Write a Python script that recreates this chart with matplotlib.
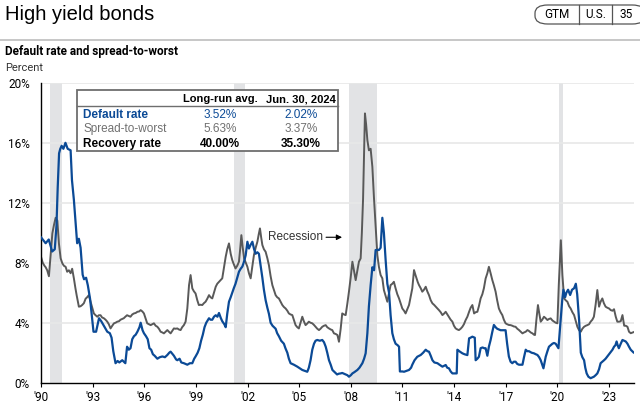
import matplotlib
matplotlib.use("Agg")
import matplotlib.pyplot as plt
from matplotlib.patches import Rectangle, FancyBboxPatch

# default rate (blue)
dr_year = [1990.0, 1990.27, 1990.45, 1990.65, 1990.8, 1990.9, 1990.97, 1991.05, 1991.12, 1991.2, 1991.3,
           1991.42, 1991.55, 1991.72, 1991.8, 1991.91, 1992.02, 1992.1, 1992.2, 1992.3, 1992.42,
           1992.5, 1992.62, 1992.72, 1992.85, 1992.95, 1993.05, 1993.2, 1993.37, 1993.5, 1993.6,
           1993.75, 1993.85, 1994.0, 1994.1, 1994.2, 1994.33, 1994.45, 1994.55, 1994.72, 1994.9,
           1995.0, 1995.1, 1995.2, 1995.3, 1995.4, 1995.5, 1995.6, 1995.72, 1995.79, 1995.9,
           1995.98, 1996.1, 1996.2, 1996.3, 1996.4, 1996.5, 1996.6, 1996.76, 1996.9, 1997.05,
           1997.2, 1997.34, 1997.45, 1997.53, 1997.65, 1997.72, 1997.85, 1997.92, 1998.05, 1998.15,
           1998.3, 1998.5, 1998.65, 1998.79, 1998.9, 1998.98, 1999.1, 1999.2, 1999.3, 1999.4,
           1999.5, 1999.6, 1999.76, 1999.85, 1999.95, 2000.05, 2000.15, 2000.25, 2000.34, 2000.45,
           2000.53, 2000.65, 2000.73, 2000.82, 2000.92, 2001.02, 2001.11, 2001.2, 2001.3, 2001.4,
           2001.5, 2001.6, 2001.7, 2001.8, 2001.89, 2001.99, 2002.08, 2002.18, 2002.28, 2002.38,
           2002.47, 2002.57, 2002.66, 2002.76, 2002.86, 2002.95, 2003.05, 2003.15, 2003.24, 2003.34,
           2003.45, 2003.63, 2003.72, 2003.82, 2003.95, 2004.11, 2004.2, 2004.31, 2004.4, 2004.5,
           2004.69, 2004.89, 2005.05, 2005.18, 2005.3, 2005.47, 2005.56, 2005.66, 2005.76, 2005.86,
           2005.95, 2006.05, 2006.2, 2006.34, 2006.44, 2006.54, 2006.63, 2006.73, 2006.83, 2006.93,
           2007.02, 2007.2, 2007.3, 2007.41, 2007.5, 2007.6, 2007.7, 2007.8, 2007.89, 2008.0,
           2008.09, 2008.2, 2008.38, 2008.5, 2008.67, 2008.77, 2008.86, 2008.96, 2009.05, 2009.15,
           2009.25, 2009.35, 2009.44, 2009.55, 2009.63, 2009.73, 2009.83, 2009.92, 2010.02, 2010.12,
           2010.22, 2010.31, 2010.41, 2010.5, 2010.6, 2010.72, 2010.8, 2010.85, 2011.0, 2011.09,
           2011.25, 2011.38, 2011.5, 2011.57, 2011.7, 2011.86, 2012.06, 2012.2, 2012.35, 2012.45,
           2012.54, 2012.64, 2012.74, 2012.85, 2013.03, 2013.15, 2013.32, 2013.51, 2013.6, 2013.7,
           2013.8, 2013.9, 2014.15, 2014.19, 2014.3, 2014.48, 2014.6, 2014.77, 2014.87, 2014.95,
           2015.06, 2015.2, 2015.25, 2015.35, 2015.44, 2015.54, 2015.65, 2015.75, 2015.83, 2015.93,
           2016.02, 2016.12, 2016.22, 2016.31, 2016.41, 2016.5, 2016.6, 2016.7, 2016.85, 2016.99,
           2017.08, 2017.18, 2017.28, 2017.38, 2017.47, 2017.57, 2017.67, 2017.77, 2017.97, 2018.06,
           2018.16, 2018.25, 2018.35, 2018.5, 2018.64, 2018.74, 2018.84, 2018.94, 2019.03, 2019.12,
           2019.19, 2019.32, 2019.42, 2019.51, 2019.61, 2019.71, 2019.8, 2019.9, 2020.06, 2020.12,
           2020.19, 2020.28, 2020.35, 2020.45, 2020.52, 2020.62, 2020.74, 2020.85, 2020.97, 2021.07,
           2021.15, 2021.26, 2021.36, 2021.45, 2021.55, 2021.62, 2021.7, 2021.8, 2021.93, 2022.03,
           2022.12, 2022.22, 2022.32, 2022.42, 2022.51, 2022.61, 2022.71, 2022.8, 2022.9, 2023.0,
           2023.1, 2023.2, 2023.29, 2023.37, 2023.44, 2023.5, 2023.57, 2023.68, 2023.78, 2023.88,
           2023.97, 2024.07, 2024.16, 2024.26, 2024.42]
dr_val = [9.7, 9.3, 9.55, 8.75, 8.9, 10.5, 13.0, 15.3, 15.6, 15.8, 15.6,
          16.0, 15.6, 15.5, 13.5, 12.2, 10.5, 9.3, 9.6, 9.0, 7.2,
          6.9, 7.0, 6.5, 5.6, 4.5, 3.4, 3.4, 4.3, 4.1, 3.9,
          3.6, 3.4, 3.3, 3.0, 2.1, 1.3, 1.45, 1.35, 1.5, 1.3,
          2.4, 2.2, 2.3, 2.9, 3.1, 3.2, 3.4, 3.7, 4.0, 3.5,
          3.3, 3.1, 2.9, 2.3, 2.2, 1.9, 1.8, 1.6, 1.7, 1.75,
          1.7, 1.85, 2.0, 2.07, 1.9, 1.8, 1.55, 1.5, 1.6, 1.35,
          1.3, 1.2, 1.3, 1.3, 1.6, 1.75, 2.0, 2.3, 2.8, 3.2,
          3.7, 4.0, 4.3, 4.2, 4.2, 4.4, 4.5, 4.4, 4.65, 4.3,
          4.1, 3.9, 3.7, 4.6, 5.4, 5.7, 6.0, 6.3, 6.6, 7.0,
          7.4, 7.6, 7.75, 8.1, 8.5, 9.4, 8.95, 9.2, 9.4, 8.9,
          8.6, 8.7, 8.6, 7.8, 7.0, 6.2, 5.5, 5.0, 4.6, 4.0,
          3.8, 3.6, 3.3, 3.1, 2.8, 2.6, 2.3, 2.0, 1.6, 1.3,
          1.2, 1.07, 0.95, 0.85, 0.8, 0.73, 1.0, 1.5, 2.2, 2.6,
          2.8, 2.85, 2.8, 2.85, 2.7, 2.4, 2.0, 1.5, 1.2, 0.85,
          0.75, 0.55, 0.6, 0.62, 0.65, 0.6, 0.55, 0.5, 0.4, 0.5,
          0.62, 0.7, 0.85, 1.0, 1.3, 1.6, 1.96, 3.3, 5.1, 6.5,
          7.7, 7.5, 8.85, 8.85, 8.85, 9.0, 11.0, 10.0, 8.2, 6.6,
          6.0, 4.5, 3.3, 2.9, 2.6, 2.5, 2.4, 0.75, 0.75, 0.73,
          0.8, 0.85, 1.0, 1.2, 1.5, 1.73, 1.85, 2.0, 2.2, 2.1,
          2.07, 1.8, 1.5, 1.35, 1.3, 1.2, 1.07, 1.18, 1.0, 0.96,
          0.75, 0.62, 0.62, 2.2, 2.1, 1.96, 1.9, 1.84, 2.96, 3.0,
          3.07, 3.0, 1.5, 1.6, 1.73, 2.3, 2.35, 2.3, 2.3, 1.8,
          2.4, 2.85, 3.4, 3.85, 3.7, 3.6, 3.55, 3.5, 3.5, 3.5,
          2.6, 1.75, 1.4, 1.3, 1.4, 1.4, 1.25, 1.2, 1.2, 1.7,
          2.2, 2.1, 2.1, 2.0, 1.96, 1.9, 1.85, 1.7, 1.5, 1.2,
          0.96, 1.73, 2.1, 2.4, 2.5, 2.6, 2.65, 2.6, 2.3, 3.2,
          4.2, 5.5, 6.2, 5.7, 6.0, 6.2, 5.85, 6.2, 6.3, 6.6,
          5.9, 4.2, 2.0, 1.7, 1.5, 1.0, 0.62, 0.4, 0.3, 0.35,
          0.4, 0.5, 0.62, 0.9, 1.3, 1.4, 1.5, 1.6, 1.75, 1.9,
          2.05, 2.2, 2.4, 2.5, 2.75, 2.5, 2.3, 2.6, 2.85, 2.8,
          2.75, 2.6, 2.4, 2.2, 2.02]

# spread-to-worst (grey)
sw_year = [1990.0, 1990.1, 1990.2, 1990.27, 1990.36, 1990.46, 1990.56, 1990.66, 1990.75, 1990.85,
           1990.95, 1991.04, 1991.14, 1991.24, 1991.33, 1991.43, 1991.52, 1991.62, 1991.72, 1991.81,
           1991.91, 1992.0, 1992.07, 1992.2, 1992.3, 1992.39, 1992.49, 1992.59, 1992.68, 1992.78,
           1992.88, 1992.98, 1993.07, 1993.17, 1993.27, 1993.36, 1993.46, 1993.55, 1993.65, 1993.75,
           1993.85, 1993.94, 1994.04, 1994.14, 1994.24, 1994.33, 1994.43, 1994.53, 1994.62, 1994.72,
           1994.81, 1994.9, 1995.0, 1995.1, 1995.2, 1995.3, 1995.4, 1995.5, 1995.6, 1995.7,
           1995.79, 1995.89, 1995.98, 1996.07, 1996.17, 1996.27, 1996.37, 1996.46, 1996.56, 1996.66,
           1996.76, 1996.85, 1996.95, 1997.05, 1997.14, 1997.24, 1997.34, 1997.43, 1997.53, 1997.62,
           1997.72, 1997.82, 1997.92, 1998.01, 1998.11, 1998.2, 1998.3, 1998.4, 1998.5, 1998.6,
           1998.69, 1998.79, 1998.88, 1998.98, 1999.08, 1999.17, 1999.27, 1999.37, 1999.46, 1999.56,
           1999.66, 1999.76, 1999.85, 1999.95, 2000.05, 2000.15, 2000.24, 2000.34, 2000.44, 2000.53,
           2000.63, 2000.73, 2000.82, 2000.92, 2001.02, 2001.11, 2001.2, 2001.3, 2001.4, 2001.5,
           2001.57, 2001.64, 2001.72, 2001.8, 2001.9, 2001.99, 2002.08, 2002.18, 2002.27, 2002.37,
           2002.47, 2002.57, 2002.65, 2002.72, 2002.79, 2002.86, 2002.95, 2003.05, 2003.15, 2003.24,
           2003.34, 2003.44, 2003.53, 2003.63, 2003.72, 2003.82, 2003.92, 2004.02, 2004.11, 2004.21,
           2004.31, 2004.4, 2004.5, 2004.6, 2004.69, 2004.79, 2004.89, 2004.98, 2005.08, 2005.18,
           2005.27, 2005.37, 2005.47, 2005.56, 2005.66, 2005.76, 2005.86, 2005.95, 2006.05, 2006.15,
           2006.24, 2006.34, 2006.44, 2006.54, 2006.63, 2006.73, 2006.83, 2006.92, 2007.02, 2007.12,
           2007.22, 2007.31, 2007.41, 2007.5, 2007.6, 2007.7, 2007.8, 2007.89, 2007.99, 2008.09,
           2008.18, 2008.28, 2008.38, 2008.47, 2008.57, 2008.64, 2008.71, 2008.77, 2008.82, 2008.89,
           2008.96, 2009.05, 2009.15, 2009.25, 2009.34, 2009.44, 2009.54, 2009.63, 2009.73, 2009.83,
           2009.92, 2010.02, 2010.12, 2010.22, 2010.31, 2010.41, 2010.5, 2010.6, 2010.7, 2010.8,
           2010.89, 2010.99, 2011.09, 2011.18, 2011.28, 2011.38, 2011.47, 2011.57, 2011.67, 2011.75,
           2011.82, 2011.89, 2011.96, 2012.06, 2012.15, 2012.25, 2012.35, 2012.44, 2012.54, 2012.64,
           2012.74, 2012.83, 2012.93, 2013.03, 2013.12, 2013.22, 2013.32, 2013.41, 2013.51, 2013.61,
           2013.7, 2013.8, 2013.9, 2013.99, 2014.09, 2014.19, 2014.28, 2014.38, 2014.48, 2014.57,
           2014.67, 2014.77, 2014.87, 2014.96, 2015.06, 2015.16, 2015.25, 2015.35, 2015.44, 2015.54,
           2015.64, 2015.73, 2015.83, 2015.93, 2016.02, 2016.12, 2016.22, 2016.31, 2016.41, 2016.5,
           2016.6, 2016.7, 2016.8, 2016.89, 2016.99, 2017.08, 2017.18, 2017.28, 2017.38, 2017.47,
           2017.57, 2017.67, 2017.77, 2017.87, 2017.97, 2018.06, 2018.16, 2018.26, 2018.35, 2018.45,
           2018.55, 2018.64, 2018.7, 2018.78, 2018.87, 2018.95, 2019.03, 2019.12, 2019.22, 2019.32,
           2019.42, 2019.51, 2019.61, 2019.71, 2019.81, 2019.9, 2020.0, 2020.08, 2020.2, 2020.29,
           2020.39, 2020.48, 2020.58, 2020.68, 2020.77, 2020.87, 2020.97, 2021.07, 2021.16, 2021.26,
           2021.36, 2021.45, 2021.55, 2021.65, 2021.74, 2021.84, 2021.93, 2022.03, 2022.12, 2022.22,
           2022.32, 2022.42, 2022.51, 2022.61, 2022.7, 2022.8, 2022.9, 2023.0, 2023.1, 2023.2,
           2023.29, 2023.39, 2023.48, 2023.58, 2023.68, 2023.78, 2023.88, 2023.97, 2024.07, 2024.16,
           2024.26, 2024.42]
sw_val = [8.4, 8.0, 7.8, 7.7, 7.5, 7.1, 8.5, 9.96, 10.5, 11.0,
          10.8, 9.3, 8.3, 7.96, 7.8, 7.73, 7.4, 7.5, 7.3, 7.6,
          6.96, 6.3, 5.84, 5.07, 5.1, 5.18, 5.3, 5.6, 5.7, 5.84,
          5.4, 5.0, 4.62, 4.5, 4.4, 4.5, 4.5, 4.35, 4.3, 4.2,
          4.07, 3.9, 3.62, 3.8, 3.96, 4.0, 4.07, 4.1, 4.2, 4.25,
          4.3, 4.4, 4.5, 4.45, 4.4, 4.55, 4.62, 4.65, 4.73, 4.75,
          4.84, 4.75, 4.62, 4.3, 3.96, 3.9, 3.84, 3.9, 3.96, 3.8,
          3.73, 3.6, 3.4, 3.35, 3.29, 3.4, 3.51, 3.4, 3.29, 3.45,
          3.62, 3.6, 3.62, 3.55, 3.51, 3.7, 3.84, 4.07, 4.95, 6.51,
          7.18, 6.29, 6.1, 5.95, 5.5, 5.18, 5.2, 5.18, 5.3, 5.4,
          5.6, 5.84, 5.7, 5.62, 6.0, 6.4, 6.6, 6.73, 6.85, 6.96,
          7.7, 8.4, 8.9, 9.29, 8.6, 8.18, 7.9, 7.62, 7.8, 8.07,
          8.9, 9.84, 9.0, 8.29, 8.0, 7.73, 7.3, 6.96, 7.7, 8.51,
          9.0, 9.4, 9.9, 10.29, 9.7, 9.18, 8.9, 8.73, 8.3, 7.84,
          7.1, 6.51, 6.2, 5.84, 5.7, 5.62, 5.4, 5.18, 5.05, 4.95,
          4.8, 4.62, 4.55, 4.51, 4.2, 3.84, 3.7, 3.62, 4.0, 4.4,
          4.1, 3.84, 3.95, 4.07, 4.0, 3.96, 3.85, 3.73, 3.6, 3.51,
          3.6, 3.73, 3.8, 3.84, 3.7, 3.62, 3.55, 3.51, 3.29, 3.25,
          3.18, 2.73, 3.6, 4.62, 4.55, 4.51, 5.3, 6.07, 7.0, 8.07,
          7.5, 6.84, 7.5, 8.07, 8.29, 10.0, 12.25, 15.5, 17.96, 17.2,
          16.18, 15.5, 15.6, 14.4, 12.4, 10.4, 8.51, 7.73, 7.18, 6.96,
          6.18, 5.8, 5.4, 6.0, 6.51, 6.6, 6.73, 6.29, 5.9, 5.62,
          5.3, 4.95, 4.8, 4.62, 4.9, 5.18, 5.7, 6.29, 7.51, 7.2,
          6.96, 6.7, 6.51, 6.3, 6.07, 6.2, 6.4, 6.1, 5.84, 5.5,
          5.29, 5.2, 5.07, 4.95, 4.84, 4.7, 4.51, 4.6, 4.73, 4.55,
          4.4, 4.2, 4.07, 3.8, 3.62, 3.55, 3.51, 3.6, 3.73, 3.9,
          4.18, 4.4, 4.73, 5.0, 5.18, 4.62, 4.7, 4.73, 5.1, 5.62,
          5.9, 6.3, 6.95, 7.3, 7.73, 7.3, 6.84, 6.5, 6.07, 5.5,
          4.95, 4.7, 4.51, 4.2, 3.96, 3.9, 3.85, 3.84, 3.8, 3.75,
          3.73, 3.6, 3.51, 3.4, 3.29, 3.35, 3.4, 3.51, 3.45, 3.35,
          3.29, 3.2, 3.18, 4.2, 5.18, 4.6, 4.07, 4.2, 4.4, 4.3,
          4.18, 4.25, 4.29, 4.15, 4.07, 4.0, 3.96, 6.5, 9.5, 7.18,
          5.62, 5.5, 5.4, 5.1, 4.95, 4.7, 4.51, 4.1, 3.73, 3.5,
          3.4, 3.6, 3.73, 3.8, 3.84, 3.9, 4.07, 4.2, 4.4, 5.2,
          6.18, 5.07, 5.4, 5.62, 5.3, 5.07, 5.0, 4.95, 4.84, 4.8,
          4.9, 4.4, 4.07, 4.07, 4.1, 4.51, 3.8, 3.8, 3.73, 3.4,
          3.3, 3.37]

recessions = [(1990.55, 1991.2), (2001.2, 2001.88), (2007.92, 2009.5), (2020.1, 2020.3)]

x_ticks = list(range(1990, 2024, 3))
x_labels = ["'90", "'93", "'96", "'99", "'02", "'05", "'08", "'11", "'14", "'17", "'20", "'23"]
y_ticks = [0, 4, 8, 12, 16, 20]
y_labels = ["0%", "4%", "8%", "12%", "16%", "20%"]

tbl_cols = ["Long-run avg.", "Jun. 30, 2024"]
tbl_rows = ["Default rate", "Spread-to-worst", "Recovery rate"]
tbl_vals = [["3.52%", "2.02%"], ["5.63%", "3.37%"], ["40.00%", "35.30%"]]

BLUE = "#0b4a96"
GREY = "#595959"
NARROW = ["Liberation Sans Narrow", "Roboto"]
SANS = ["Liberation Sans", "DejaVu Sans"]

fig = plt.figure(figsize=(6.4, 4.08), dpi=100)
ax = fig.add_axes([41 / 640, 0.062, 593 / 640, 0.735])

for a, b in recessions:
    ax.axvspan(a, b, color="#e2e3e5", lw=0, zorder=0)
for y in y_ticks[1:]:
    ax.axhline(y, color="#e8e8e8", lw=1.2, zorder=0.5)

ax.plot(sw_year, sw_val, color=GREY, lw=1.4, zorder=2)
ax.plot(dr_year, dr_val, color=BLUE, lw=1.6, zorder=3)

ax.set_xlim(1990, 2024.45)
ax.set_ylim(0, 20)
ax.set_xticks(x_ticks)
ax.set_xticklabels(x_labels, family=NARROW, fontsize=8.5)
ax.set_yticks(y_ticks)
ax.set_yticklabels(y_labels, family=NARROW, fontsize=8.5)
ax.tick_params(axis="y", length=0, pad=8)
ax.tick_params(axis="x", length=3, width=0.8, pad=3)
for s in ["top", "right"]:
    ax.spines[s].set_visible(False)
ax.spines["left"].set_linewidth(1.0)
ax.spines["bottom"].set_linewidth(1.0)

ax.annotate("", xy=(2007.65, 9.7), xytext=(2006.4, 9.7),
            arrowprops=dict(arrowstyle="-|>", color="black", lw=0.8, mutation_scale=8))
ax.text(2006.38, 9.7, "Recession", ha="right", va="center", fontsize=8.5, family=SANS, color="#333333")

# header
fig.text(5 / 640, 1 - 15 / 408, "High yield bonds", fontsize=14.5, family=SANS, va="center")
fig.add_artist(plt.Line2D([0, 1], [1 - 40 / 408] * 2, color="#bdbdbd", lw=1.2))
fig.text(5 / 640, 1 - 52 / 408, "Default rate and spread-to-worst", fontsize=8.5, weight="bold",
         family=NARROW, va="center")
fig.text(5 / 640, 1 - 68 / 408, "Percent", fontsize=8, family=NARROW, va="center", color="#333333")

badge = FancyBboxPatch((535 / 640, 1 - 24 / 408), 110 / 640, 19 / 408,
                       boxstyle="round,pad=0,rounding_size=0.02", transform=fig.transFigure,
                       fc="white", ec="#555555", lw=0.9)
fig.add_artist(badge)
for xd in [579, 612]:
    fig.add_artist(plt.Line2D([xd / 640] * 2, [1 - 24 / 408, 1 - 5 / 408], color="#555555", lw=0.9))
for xt, t in zip([557, 596, 626], ["GTM", "U.S.", "35"]):
    fig.text(xt / 640, 1 - 14.5 / 408, t, fontsize=8.5, family=NARROW, ha="center", va="center")

# table box
tx0, ty0, tx1, ty1 = 77, 90, 338, 151
fig.add_artist(Rectangle((tx0 / 640, 1 - ty1 / 408), (tx1 - tx0) / 640, (ty1 - ty0) / 408,
                         transform=fig.transFigure, fc="white", ec="#6e6e6e", lw=1.3, zorder=5))
fig.add_artist(plt.Line2D([tx0 / 640, tx1 / 640], [1 - 106 / 408] * 2, color="#6e6e6e", lw=1.0, zorder=6))
col_x = [220, 301]
for cx, c in zip(col_x, tbl_cols):
    fig.text(cx / 640, 1 - 99 / 408, c, fontsize=8, weight="bold", family=SANS,
             ha="center", va="center", zorder=7)
row_y = [114.5, 129, 143.5]
row_style = [(BLUE, "bold"), ("#707070", "normal"), ("black", "bold")]
for ry, r, vals, (col, wt) in zip(row_y, tbl_rows, tbl_vals, row_style):
    fig.text(83 / 640, 1 - ry / 408, r, fontsize=8.5, family=SANS, color=col, weight=wt,
             va="center", zorder=7)
    for cx, v in zip(col_x, vals):
        fig.text(cx / 640, 1 - ry / 408, v, fontsize=8.5, family=SANS, color=col,
                 weight="bold" if col == "black" else "normal",
                 ha="center", va="center", zorder=7)

fig.savefig("out.png", dpi=100)
